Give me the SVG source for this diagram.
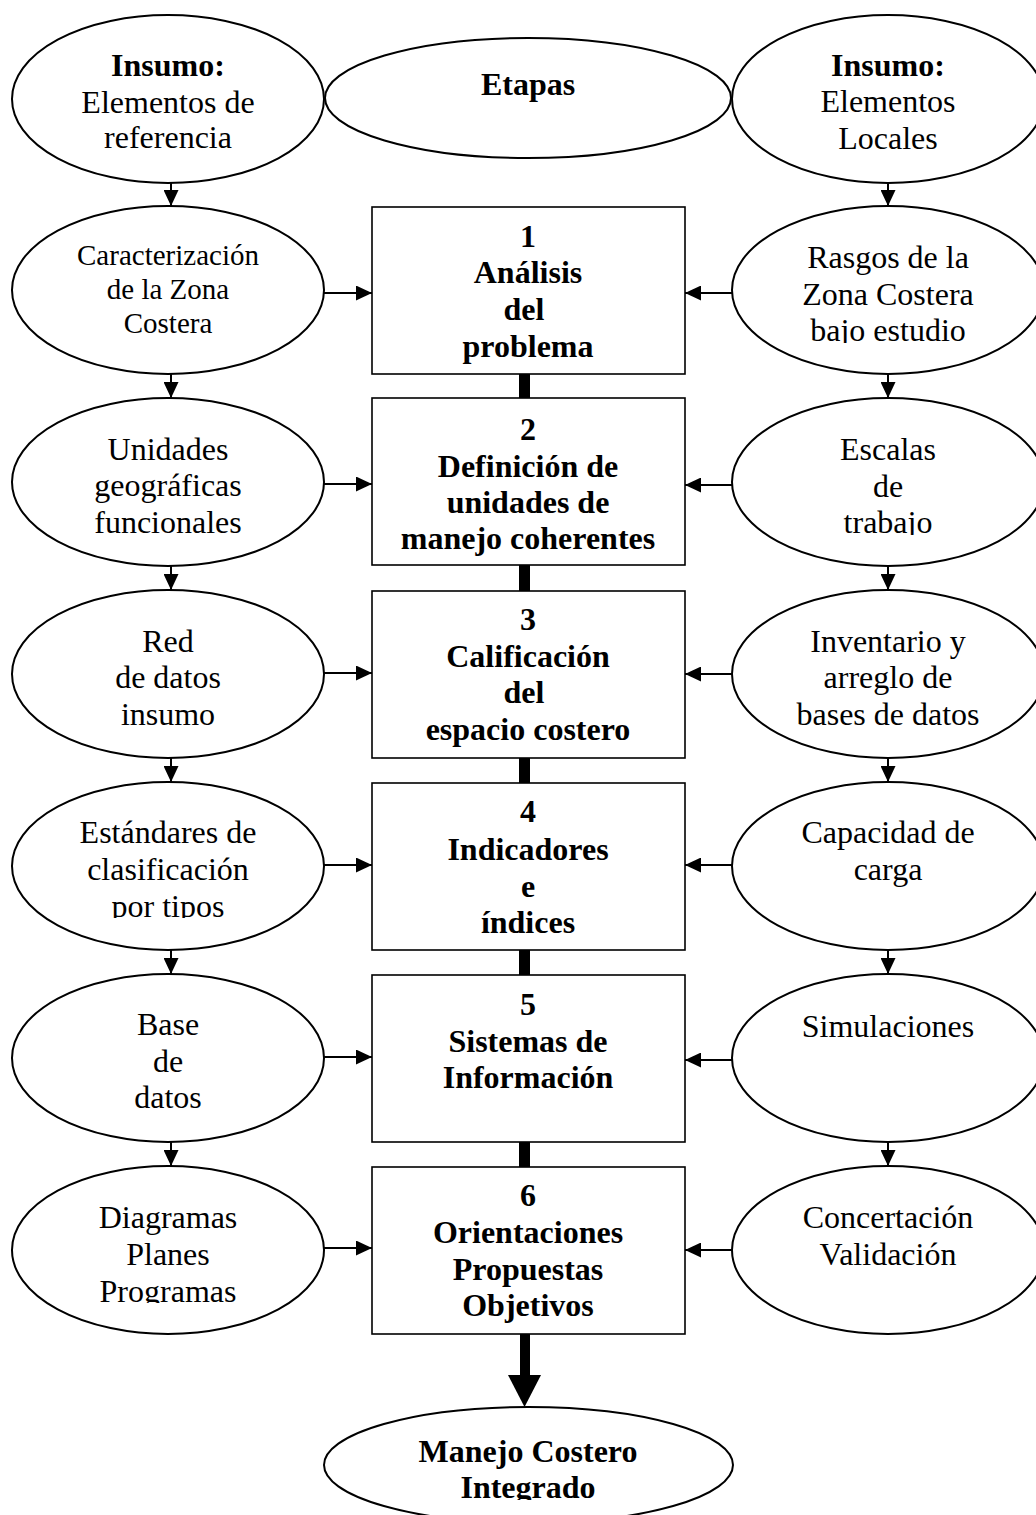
<svg xmlns="http://www.w3.org/2000/svg" width="1036" height="1515" viewBox="0 0 1036 1515">
<style>
.ell{fill:#fff;stroke:#000;stroke-width:2}
.box{fill:#fff;stroke:#000;stroke-width:1.6}
.t{font-family:"Liberation Serif","Times New Roman",serif;font-size:32px;fill:#000;text-anchor:middle}
.b{font-weight:bold}
.s{font-size:29px}
.ln{stroke:#000;stroke-width:2;fill:none}
.ah{marker-end:url(#arr)}
.bar{fill:#000}
</style>
<defs>
<marker id="arr" markerUnits="userSpaceOnUse" markerWidth="16" markerHeight="15" refX="16" refY="7.5" orient="auto">
<path d="M0,0 L16,7.5 L0,15 z" fill="#000"/>
</marker>
<clipPath id="c1"><rect x="700" y="200" width="336" height="143"/></clipPath>
<clipPath id="c2"><rect x="700" y="390" width="336" height="145"/></clipPath>
<clipPath id="c4"><rect x="0" y="780" width="340" height="138"/></clipPath>
<clipPath id="c6"><rect x="0" y="1160" width="340" height="143"/></clipPath>
<clipPath id="c7"><rect x="300" y="1400" width="460" height="100"/></clipPath>
</defs>

<g id="insumo-ref">
<ellipse class="ell" cx="168" cy="99" rx="156" ry="84"/>
<text class="t b" x="168" y="76">Insumo:</text>
<text class="t" x="168" y="113">Elementos de</text>
<text class="t" x="168" y="148">referencia</text>
</g>
<g id="etapas">
<ellipse class="ell" cx="528" cy="98" rx="203" ry="60"/>
<text class="t b" x="528" y="95">Etapas</text>
</g>
<g id="insumo-local">
<ellipse class="ell" cx="888" cy="99" rx="156" ry="84"/>
<text class="t b" x="888" y="76">Insumo:</text>
<text class="t" x="888" y="112">Elementos</text>
<text class="t" x="888" y="149">Locales</text>
</g>

<g id="l1">
<ellipse class="ell" cx="168" cy="290" rx="156" ry="84"/>
<text class="t s" x="168" y="265">Caracterización</text>
<text class="t s" x="168" y="299">de la Zona</text>
<text class="t s" x="168" y="333">Costera</text>
</g>
<g id="box1">
<rect class="box" x="372" y="207" width="313" height="167"/>
<text class="t b" x="528" y="247">1</text>
<text class="t b" x="528" y="283">Análisis</text>
<text class="t b" x="524" y="320">del</text>
<text class="t b" x="528" y="357">problema</text>
</g>
<g id="r1">
<ellipse class="ell" cx="888" cy="290" rx="156" ry="84"/>
<text class="t" x="888" y="268">Rasgos de la</text>
<text class="t" x="888" y="305">Zona Costera</text>
<text class="t" x="888" y="341" clip-path="url(#c1)">bajo estudio</text>
</g>

<g id="l2">
<ellipse class="ell" cx="168" cy="482" rx="156" ry="84"/>
<text class="t" x="168" y="460">Unidades</text>
<text class="t" x="168" y="496">geográficas</text>
<text class="t" x="168" y="533">funcionales</text>
</g>
<g id="box2">
<rect class="box" x="372" y="398" width="313" height="167"/>
<text class="t b" x="528" y="440">2</text>
<text class="t b" x="528" y="477">Definición de</text>
<text class="t b" x="528" y="513">unidades de</text>
<text class="t b" x="528" y="549">manejo coherentes</text>
</g>
<g id="r2">
<ellipse class="ell" cx="888" cy="482" rx="156" ry="84"/>
<text class="t" x="888" y="460">Escalas</text>
<text class="t" x="888" y="497">de</text>
<text class="t" x="888" y="533" clip-path="url(#c2)">trabajo</text>
</g>

<g id="l3">
<ellipse class="ell" cx="168" cy="674" rx="156" ry="84"/>
<text class="t" x="168" y="652">Red</text>
<text class="t" x="168" y="688">de datos</text>
<text class="t" x="168" y="725">insumo</text>
</g>
<g id="box3">
<rect class="box" x="372" y="591" width="313" height="167"/>
<text class="t b" x="528" y="630">3</text>
<text class="t b" x="528" y="667">Calificación</text>
<text class="t b" x="524" y="703">del</text>
<text class="t b" x="528" y="740">espacio costero</text>
</g>
<g id="r3">
<ellipse class="ell" cx="888" cy="674" rx="156" ry="84"/>
<text class="t" x="888" y="652">Inventario y</text>
<text class="t" x="888" y="688">arreglo de</text>
<text class="t" x="888" y="725">bases de datos</text>
</g>

<g id="l4">
<ellipse class="ell" cx="168" cy="866" rx="156" ry="84"/>
<text class="t" x="168" y="843">Estándares de</text>
<text class="t" x="168" y="880">clasificación</text>
<text class="t" x="168" y="917" clip-path="url(#c4)">por tipos</text>
</g>
<g id="box4">
<rect class="box" x="372" y="783" width="313" height="167"/>
<text class="t b" x="528" y="822">4</text>
<text class="t b" x="528" y="860">Indicadores</text>
<text class="t b" x="528" y="897">e</text>
<text class="t b" x="528" y="933">índices</text>
</g>
<g id="r4">
<ellipse class="ell" cx="888" cy="866" rx="156" ry="84"/>
<text class="t" x="888" y="843">Capacidad de</text>
<text class="t" x="888" y="880">carga</text>
</g>

<g id="l5">
<ellipse class="ell" cx="168" cy="1058" rx="156" ry="84"/>
<text class="t" x="168" y="1035">Base</text>
<text class="t" x="168" y="1072">de</text>
<text class="t" x="168" y="1108">datos</text>
</g>
<g id="box5">
<rect class="box" x="372" y="975" width="313" height="167"/>
<text class="t b" x="528" y="1015">5</text>
<text class="t b" x="528" y="1052">Sistemas de</text>
<text class="t b" x="528" y="1088">Información</text>
</g>
<g id="r5">
<ellipse class="ell" cx="888" cy="1058" rx="156" ry="84"/>
<text class="t" x="888" y="1037">Simulaciones</text>
</g>

<g id="l6">
<ellipse class="ell" cx="168" cy="1250" rx="156" ry="84"/>
<text class="t" x="168" y="1228">Diagramas</text>
<text class="t" x="168" y="1265">Planes</text>
<text class="t" x="168" y="1302" clip-path="url(#c6)">Programas</text>
</g>
<g id="box6">
<rect class="box" x="372" y="1167" width="313" height="167"/>
<text class="t b" x="528" y="1206">6</text>
<text class="t b" x="528" y="1243">Orientaciones</text>
<text class="t b" x="528" y="1280">Propuestas</text>
<text class="t b" x="528" y="1316">Objetivos</text>
</g>
<g id="r6">
<ellipse class="ell" cx="888" cy="1250" rx="156" ry="84"/>
<text class="t" x="888" y="1228">Concertación</text>
<text class="t" x="888" y="1265">Validación</text>
</g>

<g id="mci">
<ellipse class="ell" cx="528.5" cy="1465" rx="204.5" ry="58"/>
<text class="t b" x="528" y="1462">Manejo Costero</text>
<text class="t b" x="528" y="1498" clip-path="url(#c7)">Integrado</text>
</g>

<g id="connectors">
<line class="ln ah" x1="171" y1="183" x2="171" y2="206"/>
<line class="ln ah" x1="171" y1="374" x2="171" y2="398"/>
<line class="ln ah" x1="171" y1="566" x2="171" y2="590"/>
<line class="ln ah" x1="171" y1="758" x2="171" y2="782"/>
<line class="ln ah" x1="171" y1="950" x2="171" y2="974"/>
<line class="ln ah" x1="171" y1="1142" x2="171" y2="1166"/>
<line class="ln ah" x1="888" y1="183" x2="888" y2="206"/>
<line class="ln ah" x1="888" y1="374" x2="888" y2="398"/>
<line class="ln ah" x1="888" y1="566" x2="888" y2="590"/>
<line class="ln ah" x1="888" y1="758" x2="888" y2="782"/>
<line class="ln ah" x1="888" y1="950" x2="888" y2="974"/>
<line class="ln ah" x1="888" y1="1142" x2="888" y2="1166"/>
<line class="ln ah" x1="324" y1="293" x2="372" y2="293"/>
<line class="ln ah" x1="324" y1="484" x2="372" y2="484"/>
<line class="ln ah" x1="324" y1="673" x2="372" y2="673"/>
<line class="ln ah" x1="324" y1="865" x2="372" y2="865"/>
<line class="ln ah" x1="324" y1="1057" x2="372" y2="1057"/>
<line class="ln ah" x1="324" y1="1248" x2="372" y2="1248"/>
<line class="ln ah" x1="732" y1="293" x2="685" y2="293"/>
<line class="ln ah" x1="732" y1="485" x2="685" y2="485"/>
<line class="ln ah" x1="732" y1="674" x2="685" y2="674"/>
<line class="ln ah" x1="732" y1="865" x2="685" y2="865"/>
<line class="ln ah" x1="732" y1="1060" x2="685" y2="1060"/>
<line class="ln ah" x1="732" y1="1250" x2="685" y2="1250"/>
<rect class="bar" x="519" y="374" width="11" height="24"/>
<rect class="bar" x="519" y="565" width="11" height="26"/>
<rect class="bar" x="519" y="758" width="11" height="25"/>
<rect class="bar" x="519" y="950" width="11" height="25"/>
<rect class="bar" x="519" y="1142" width="11" height="25"/>
<rect class="bar" x="520" y="1334" width="10" height="42"/>
<polygon class="bar" points="508,1375 541,1375 524.5,1407"/>
</g>
</svg>
